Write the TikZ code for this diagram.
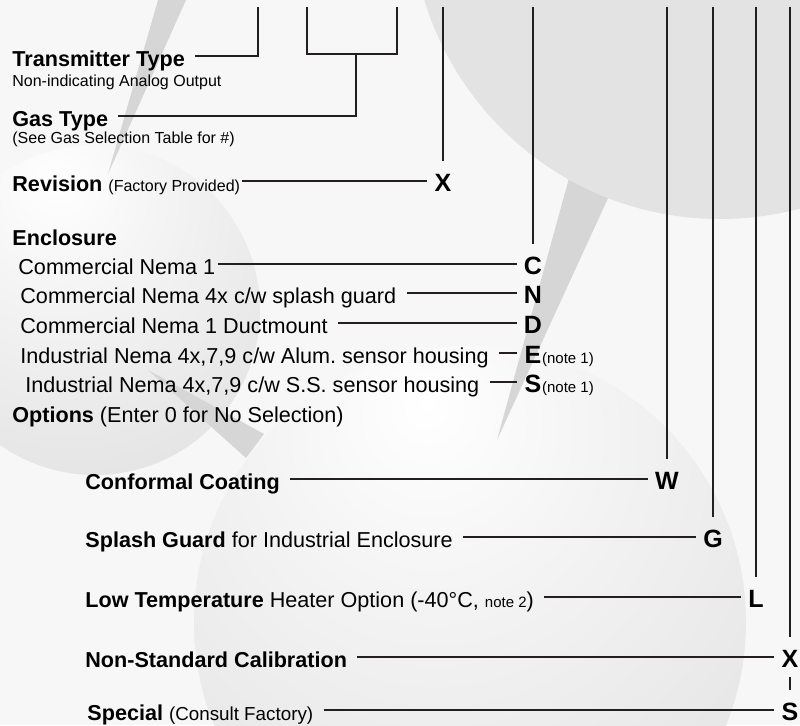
\documentclass[tikz,border=0pt]{standalone}
\usepackage{fontspec}
\setmainfont{Liberation Sans}
\usetikzlibrary{positioning}
\definecolor{leadline}{HTML}{231F20}
\definecolor{paper}{HTML}{F7F7F7}
\definecolor{capgray}{HTML}{E3E3E3}
\definecolor{streak}{HTML}{D6D6D6}
\definecolor{orbedge}{HTML}{DDDDDD}
\pgfdeclareradialshading{leftorb}{\pgfpoint{-6bp}{20bp}}{color(0bp)=(white); color(14bp)=(white!70!orbedge); color(50bp)=(orbedge); color(100bp)=(orbedge)}
\pgfdeclareradialshading{floororb}{\pgfpoint{-4bp}{20bp}}{color(0bp)=(white); color(16bp)=(white!65!orbedge); color(50bp)=(orbedge); color(100bp)=(orbedge)}
\frenchspacing

\begin{document}
\begin{tikzpicture}[
  x=0.5pt, y=-0.5pt,
  head/.style ={anchor=base west, inner sep=0pt, text height=10pt, text depth=0pt, font=\fontsize{10.8}{13}\selectfont},
  sub/.style  ={anchor=base west, inner sep=0pt, font=\fontsize{8}{9.6}\selectfont},
  code/.style ={anchor=base, inner xsep=3.5pt, inner ysep=5pt, text height=10pt, text depth=0pt, font=\fontsize{12.5}{15}\selectfont\bfseries},
  note/.style ={inner sep=0pt, font=\fontsize{7.5}{9}\selectfont},
  lead/.style ={draw=leadline, line width=1pt, shorten <=5pt},
  drop/.style ={draw=leadline, line width=1pt},
]
  \useasboundingbox (0,0) rectangle (800,725);
  \fill[paper] (0,0) rectangle (800,725);
  \shade[shading=leftorb]  (95,310)  circle (165);
  \shade[shading=floororb] (470,622) circle (276);
  \fill[streak] (618,0) -- (699,0) -- (497,440) -- cycle;
  \fill[capgray] (720,-90) circle (309);
  \fill[streak] (158,0) -- (186,0) -- (108,174) -- cycle;
  \fill[streak] (148,370) -- (264,434) -- (246,458) -- cycle;

  \node[head] (tt)      at (12,66)  {\textbf{Transmitter Type}};
  \node[sub]  (ttsub)   at (12,86)  {Non-indicating Analog Output};
  \node[head] (gas)     at (12,126) {\textbf{Gas Type}};
  \node[sub]  (gassub)  at (12,143) {(See Gas Selection Table for \#)};
  \node[head] (rev)     at (12,191) {\textbf{Revision} {\fontsize{8}{9.6}\selectfont(Factory Provided)}};
  \node[head] (encl)    at (12,245) {\textbf{Enclosure}};
  \node[head] (cnone)   at (18,274) {Commercial Nema 1};
  \node[head] (cnfour)  at (20,303) {Commercial Nema 4x c/w splash guard};
  \node[head] (cnduct)  at (20,333) {Commercial Nema 1 Ductmount};
  \node[head] (inalum)  at (20,363) {Industrial Nema 4x,7,9 c/w Alum. sensor housing};
  \node[head] (inss)    at (25,392) {Industrial Nema 4x,7,9 c/w S.S. sensor housing};
  \node[head] (opt)     at (12,422) {\textbf{Options} (Enter 0 for No Selection)};
  \node[head] (conf)    at (85,489) {\textbf{Conformal Coating}};
  \node[head] (splash)  at (85,547) {\textbf{Splash Guard} for Industrial Enclosure};
  \node[head] (lowt)    at (85,607) {\textbf{Low Temperature} Heater Option (-40°C, {\fontsize{7.5}{9}\selectfont note 2})};
  \node[head] (nonstd)  at (85,667) {\textbf{Non-Standard Calibration}};
  \node[head] (spec)    at (87,720) {\textbf{Special} {\fontsize{9.4}{11}\selectfont(Consult Factory)}};

  \node[code] (revx)    at (443,191) {X};
  \node[code] (encc)    at (533,274) {C};
  \node[code] (encn)    at (533,303) {N};
  \node[code] (encd)    at (533,333) {D};
  \node[code] (ence)    at (533,363) {E};
  \node[code] (encs)    at (533,392) {S};
  \node[code] (optw)    at (667,489) {W};
  \node[code] (optg)    at (713,547) {G};
  \node[code] (optl)    at (756,607) {L};
  \node[code] (optx)    at (790,667) {X};
  \node[code] (opts)    at (790,720) {S};

  \node[note, base right=-3.5pt of ence] (notee) {(note 1)};
  \node[note, base right=-3.5pt of encs] (notes) {(note 1)};

  \coordinate (tttop)    at (258,7);
  \coordinate (gasleft)  at (307,7);
  \coordinate (gasright) at (397,7);
  \coordinate (gasbar)   at (356,54);
  \coordinate (revtop)   at (revx |- 0,7);
  \coordinate (enctop)   at (encc |- 0,7);
  \coordinate (wtop)     at (optw |- 0,7);
  \coordinate (gtop)     at (optg |- 0,7);
  \coordinate (ltop)     at (optl |- 0,7);
  \coordinate (xtop)     at (optx |- 0,7);

  \draw[lead] (tt)       -| (tttop);
  \draw[drop] (gasleft) -- (gasleft |- gasbar) -- (gasright |- gasbar) -- (gasright);
  \draw[lead] (gas)      -| (gasbar);
  \draw[lead, shorten <=1pt] (rev) -- (revx);
  \draw[drop] (revtop)   -- (revx);
  \draw[drop] (enctop)   -- (encc);
  \draw[lead, shorten <=1pt] (cnone) -- (encc);
  \draw[lead] (cnfour)   -- (encn);
  \draw[lead] (cnduct)   -- (encd);
  \draw[lead] (inalum)   -- (ence);
  \draw[lead] (inss)     -- (encs);
  \draw[drop] (wtop)     -- (optw);
  \draw[drop] (gtop)     -- (optg);
  \draw[drop] (ltop)     -- (optl);
  \draw[drop] (xtop)     -- (optx);
  \draw[drop] (optx)     -- (opts);
  \draw[lead] (conf)     -- (optw);
  \draw[lead] (splash)   -- (optg);
  \draw[lead] (lowt)     -- (optl);
  \draw[lead] (nonstd)   -- (optx);
  \draw[lead] (spec)     -- (opts);
\end{tikzpicture}
\end{document}
